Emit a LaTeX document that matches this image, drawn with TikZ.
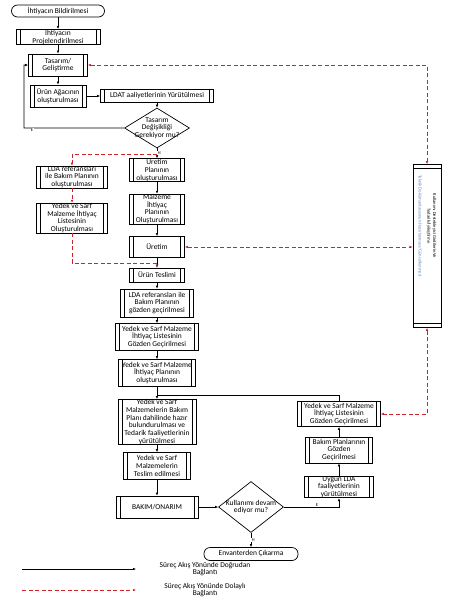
\documentclass[tikz,border=0pt]{standalone}
\usepackage{fontspec}
\setmainfont{Carlito}
\usepackage{graphicx}
\usetikzlibrary{shapes.geometric,arrows.meta}

\definecolor{linkred}{RGB}{205,35,45}
\definecolor{noteblue}{RGB}{95,135,190}

\tikzstyle{block} = [rectangle, draw, line width=0.7bp, align=center, inner sep=0bp, font=\fontsize{7.5}{7.8}\selectfont,
  path picture={\draw[line width=0.6bp] ([xshift=4bp]path picture bounding box.north west) -- ([xshift=4bp]path picture bounding box.south west)
    ([xshift=-4bp]path picture bounding box.north east) -- ([xshift=-4bp]path picture bounding box.south east);}]
\tikzstyle{vblock} = [rectangle, draw, line width=0.7bp, align=center, inner sep=0bp, font=\fontsize{4.6}{5.8}\selectfont,
  path picture={\draw[line width=0.6bp] ([yshift=-4bp]path picture bounding box.north west) -- ([yshift=-4bp]path picture bounding box.north east)
    ([yshift=4bp]path picture bounding box.south west) -- ([yshift=4bp]path picture bounding box.south east);}]
\tikzstyle{term} = [rectangle, draw, line width=0.7bp, rounded corners=6bp, align=center, inner sep=0bp, font=\fontsize{7.5}{7.8}\selectfont]
\tikzstyle{decision} = [diamond, draw, line width=0.7bp, inner sep=0bp]
\tikzstyle{dectext} = [font=\fontsize{7.5}{7.8}\selectfont, align=center, inner sep=0bp]
\tikzstyle{elabel} = [font=\fontsize{4.5}{4.5}\selectfont, inner sep=0.4bp, fill=white]
\tikzstyle{legend} = [font=\fontsize{7.5}{7.8}\selectfont, align=center, inner sep=0bp]
\tikzstyle{line} = [draw, line width=0.7bp, -{Latex[length=3bp,width=2.6bp]}]
\tikzstyle{dline} = [draw, linkred, line width=0.7bp, dash pattern=on 4bp off 2.5bp, -{Latex[length=3bp,width=2.6bp]}]

\begin{document}
\begin{tikzpicture}[node distance = 30bp, auto]

  \useasboundingbox (0,0) rectangle (451bp,-600bp);

  % design column
  \node[term, minimum width=93bp, minimum height=12bp] (bildirim) at (58bp,-11bp) {İhtiyacın Bildirilmesi};
  \node[block, below of = bildirim, node distance = 26bp, minimum width=84bp, minimum height=14bp] (proje) {İhtiyacın\\Projelendirilmesi};
  \node[block, below of = proje, node distance = 28bp, minimum width=59bp, minimum height=22bp] (tasarim) {Tasarım/\\Geliştirme};
  \node[block, below of = tasarim, node distance = 31bp, minimum width=56bp, minimum height=22bp] (agac) {Ürün Ağacının\\oluşturulması};
  \node[block, right of = agac, node distance = 99bp, minimum width=113bp, minimum height=13bp] (ldat) {LDAT aaliyetlerinin Yürütülmesi};
  \node[decision, below of = ldat, node distance = 32bp, minimum width=65bp, minimum height=40bp,
    label={[dectext]center:Tasarım\\Değişikliği\\Gerekiyor mu?}] (degisim) {};

  % production column
  \node[block, below of = degisim, node distance = 42bp, minimum width=55bp, minimum height=21bp] (uretimplan) {Üretim\\Planının\\oluşturulması};
  \node[block, below of = uretimplan, node distance = 39bp, minimum width=55bp, minimum height=26bp] (malzplan) {Malzeme\\İhtiyaç\\Planının\\Oluşturulması};
  \node[block, below of = malzplan, node distance = 38bp, minimum width=55bp, minimum height=21bp] (uretim) {Üretim};
  \node[block, below of = uretim, node distance = 28bp, minimum width=55bp, minimum height=14bp] (teslim) {Ürün Teslimi};
  \node[block, left of = uretimplan, node distance = 85bp, yshift=-7bp, minimum width=71bp, minimum height=20bp] (ldaref) {LDA referansları\\ile Bakım Planının\\oluşturulması};
  \node[block, below of = ldaref, node distance = 41bp, minimum width=71bp, minimum height=27bp] (yedekliste) {Yedek ve Sarf\\Malzeme İhtiyaç\\Listesinin\\Oluşturulması};
  \node[vblock, right of = uretim, node distance = 270bp, yshift=1bp, minimum width=28bp, minimum height=163bp] (girdiler)
    {\rotatebox{-90}{\begin{tabular}{@{}c@{}}Kullanımı Destekleyici Girdilerin Ve\\Tedarik/İyileştirme\\[3bp]\textcolor{noteblue}{Teknik Dokümantasyonun Hazırlanması/Güncellenmesi}\end{tabular}\hspace{40bp}}};

  % use column
  \node[block, below of = teslim, node distance = 28bp, minimum width=73bp, minimum height=28bp] (bakimgozden) {LDA referansları ile\\Bakım Planının\\gözden geçirilmesi};
  \node[block, below of = bakimgozden, node distance = 34bp, minimum width=83bp, minimum height=27bp] (listegozden) {Yedek ve Sarf Malzeme\\İhtiyaç Listesinin\\Gözden Geçirilmesi};
  \node[block, below of = listegozden, node distance = 36bp, minimum width=77bp, minimum height=27bp] (ihtiyacplan) {Yedek ve Sarf Malzeme\\İhtiyaç Planının\\oluşturulması};
  \node[block, below of = ihtiyacplan, node distance = 49bp, minimum width=78bp, minimum height=42bp] (tedarik) {Yedek ve Sarf\\Malzemelerin Bakım\\Planı dahilinde hazır\\bulundurulması ve\\Tedarik faaliyetlerinin\\yürütülmesi};
  \node[block, below of = tedarik, node distance = 44bp, minimum width=67bp, minimum height=27bp] (malzteslim) {Yedek ve Sarf\\Malzemelerin\\Teslim edilmesi};
  \node[block, below of = malzteslim, node distance = 41bp, minimum width=82bp, minimum height=22bp] (bakim) {BAKIM/ONARIM};
  \node[decision, right of = bakim, node distance = 94bp, minimum width=65bp, minimum height=51bp,
    label={[dectext]center:Kullanımı devam\\ediyor mu?}] (kullanim) {};
  \node[term, below of = kullanim, node distance = 47bp, minimum width=94bp, minimum height=13bp] (envanter) {Envanterden Çıkarma};
  \node[block, right of = kullanim, node distance = 88bp, yshift=20bp, minimum width=69bp, minimum height=21bp] (uygunlda) {Uygun LDA\\faaliyetlerinin\\yürütülmesi};
  \node[block, above of = uygunlda, node distance = 37bp, minimum width=67bp, minimum height=26bp] (bakimplan) {Bakım Planlarının\\Gözden\\Geçirilmesi};
  \node[block, above of = bakimplan, node distance = 36bp, minimum width=83bp, minimum height=25bp] (listegozden2) {Yedek ve Sarf Malzeme\\İhtiyaç Listesinin\\Gözden Geçirilmesi};

  \coordinate (loopE) at (24bp,-128bp);
  \coordinate (hsplit) at (157bp,-154bp);
  \coordinate (join1) at (157bp,-263bp);
  \coordinate (join2) at (157bp,-395bp);

  % direct links
  \path [line] (bildirim) -- (proje);
  \path [line] (proje) -- (tasarim);
  \path [line] (tasarim) -- (agac);
  \path [line] (agac) -- (ldat);
  \path [line] (ldat) -- (degisim);
  \path [line] (degisim.west) -- node[elabel, pos=0.92] {E} (loopE) |- (tasarim.west);
  \path [line] (degisim) -- node[elabel, pos=0.45] {H} (uretimplan);
  \path [line] (uretimplan) -- (malzplan);
  \path [line] (malzplan) -- (uretim);
  \path [line] (uretim) -- (teslim);
  \path [line] (teslim) -- (bakimgozden);
  \path [line] (bakimgozden) -- (listegozden);
  \path [line] (listegozden) -- (ihtiyacplan);
  \path [line] (ihtiyacplan) -- (tedarik);
  \path [line] (tedarik) -- (malzteslim);
  \path [line] (malzteslim) -- (bakim);
  \path [line] (bakim) -- (kullanim);
  \path [line] (kullanim) -- node[elabel, pos=0.5] {H} (envanter);
  \path [line] (kullanim.east) -| node[elabel, pos=0.3] {E} (uygunlda.south);
  \path [line] (uygunlda) -- (bakimplan);
  \path [line] (bakimplan) -- (listegozden2);
  \draw [line width=0.7bp] (listegozden2.north) |- (join2);

  % indirect links
  \path [dline] (hsplit) -| (ldaref.north);
  \path [dline] (ldaref) -- (yedekliste);
  \path [dline] (yedekliste.south) |- (join1) -- (teslim.north);
  \path [dline, {Latex[length=3bp,width=2.6bp]}-{Latex[length=3bp,width=2.6bp]}] (tasarim.east) -| (girdiler.north);
  \path [dline, {Latex[length=3bp,width=2.6bp]}-{Latex[length=3bp,width=2.6bp]}] (uretim.east) -- (uretim.east -| girdiler.west);
  \path [dline, {Latex[length=3bp,width=2.6bp]}-{Latex[length=3bp,width=2.6bp]}] (girdiler.south) |- (listegozden2.east);

  % legend
  \coordinate (lgdirecta) at (22bp,-569bp);
  \coordinate (lgdirectb) at (136bp,-569bp);
  \coordinate (lgindirecta) at (22bp,-590bp);
  \coordinate (lgindirectb) at (136bp,-590bp);
  \path [line] (lgdirecta) -- (lgdirectb);
  \path [dline] (lgindirecta) -- (lgindirectb);
  \node[legend] (lgdirect) at (205bp,-569bp) {Süreç Akış Yönünde Doğrudan\\Bağlantı};
  \node[legend] (lgindirect) at (205bp,-590bp) {Süreç Akış Yönünde Dolaylı\\Bağlantı};

\end{tikzpicture}
\end{document}
